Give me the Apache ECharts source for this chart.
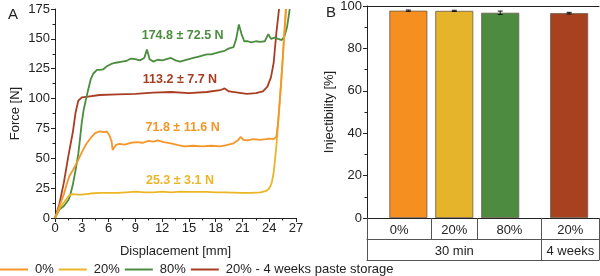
<!DOCTYPE html>
<html>
<head>
<meta charset="utf-8">
<script src="https://cdn.jsdelivr.net/npm/echarts@6/dist/echarts.min.js"></script>
<style>
  html, body { margin: 0; padding: 0; background: #fff; }
  #chart { width: 600px; height: 276px; }
</style>
</head>
<body>
<div id="chart"></div>
<script>
// panel A: force vs displacement curves [displacement mm, force N]
var curve0 = [[0,0],[0.3,6],[0.6,12],[1,20],[1.3,28],[1.6,35],[2,40],[2.5,47],[3,55],[3.5,62],[4,67],[4.5,71],[5,72.5],[5.5,72],[5.8,72.5],[6.1,69],[6.35,64],[6.45,57],[6.6,56],[6.8,61],[7.2,62],[7.8,61.5],[8.5,63],[9.2,63.5],[9.8,63],[10.5,64.5],[11,64],[11.5,65],[12.2,63.5],[13,62.5],[13.8,61],[14.5,60],[15.5,60.5],[16.5,60],[17.5,60.5],[18.5,60],[19.2,61],[20,62.5],[20.5,65],[20.8,68],[21.1,65.5],[21.6,65],[22.2,66],[23,65.5],[23.6,66],[24,66.5],[24.5,66],[24.8,68],[25,80],[25.3,110],[25.6,145],[25.9,175]];
var curve20 = [[0,0],[0.3,5],[0.6,9],[1,13],[1.3,16],[1.6,19],[1.9,20],[2.5,19.5],[3,19.5],[4,20.5],[5,21],[6,21],[7,21],[8,21.5],[9,22],[10,21.5],[11,21.5],[12,22],[13,21.5],[14,22],[15,21.8],[16,21.8],[17,21.8],[18,21.5],[19,21.5],[20,21.3],[21,21],[22,21],[23,21.5],[23.6,22.5],[23.9,24],[24.1,26],[24.3,30],[24.5,38],[24.8,60],[25.1,90],[25.5,130],[25.85,175]];
var curve80 = [[0,0],[0.5,7],[1,10],[1.5,15],[1.7,19],[2,28],[2.3,40],[2.6,53],[2.8,66],[3,80],[3.2,90],[3.4,97],[3.7,107],[4,116],[4.3,121],[4.7,124],[5,124],[5.4,124.5],[5.8,127],[6.3,129],[6.8,130],[7.5,131],[8,131.5],[8.5,133.5],[9,133],[9.5,132],[10,134],[10.3,141],[10.6,133],[11,131],[11.5,132.5],[12,132],[12.5,133],[13,134],[13.5,132],[14,131],[14.5,132],[15,133],[15.5,134],[16,135],[16.5,136],[17,137],[17.5,137],[18,138],[18.5,139],[19,140],[19.5,142],[20,143],[20.3,150],[20.6,162],[20.9,154],[21.2,148],[21.6,148],[22,147],[22.5,148],[23,147.5],[23.5,148],[23.9,154],[24.2,150],[24.6,151],[25,150],[25.4,149],[25.7,152],[26,160],[26.3,175]];
var curve20w = [[0,0],[0.5,12],[1,30],[1.5,52],[2,72],[2.3,88],[2.6,98],[3,101],[3.5,101.5],[5,103],[7,103.5],[9,104],[11,105],[13,105.5],[15,104.5],[17,105.5],[18.5,107],[19,108.5],[19.5,106],[20.5,105],[21.5,104],[22.5,104.5],[23.3,106],[23.8,110],[24.2,118],[24.5,130],[24.8,155],[25.1,175]];

var seriesNames = ["0%", "20%", "80%", "20% - 4 weeks paste storage"];
var curveNotes = ["71.8 \u00b1 11.6 N", "25.3 \u00b1 3.1 N", "174.8 \u00b1 72.5 N", "113.2 \u00b1 7.7 N"];
var notePos = [[14.3, 76], [14, 31], [14.3, 153], [14, 115.6]];

// panel B: injectibility
var barPos = [1, 2, 3, 4.5];
var barVals = [97.8, 97.7, 96.8, 96.6];
var barErr = [0.3, 0.3, 0.8, 0.4];
var row1Cuts = [0.1, 1.5, 2.5, 3.9, 5.15];
var row1Labels = ["0%", "20%", "80%", "20%"];
var row2Cuts = [0.1, 3.9, 5.15];
var row2Labels = ["30 min", "4 weeks"];

var colors = ["#f4962a", "#ebb626", "#4b8d3e", "#a83d21"];
var barColors = ["#f58f1f", "#e5b42a", "#4c8b40", "#a7411f"];
var font = "Liberation Sans";

var chart = echarts.init(document.getElementById("chart"));

function mids(cuts) {
    var out = [];
    for (var i = 0; i < cuts.length - 1; i++) out.push((cuts[i] + cuts[i + 1]) / 2);
    return out;
}
var row1Mid = mids(row1Cuts), row2Mid = mids(row2Cuts);
function labelFor(mid, labels) {
    return function(v) {
        for (var i = 0; i < mid.length; i++) if (Math.abs(mid[i] - v) < 1e-6) return labels[i];
        return "";
    };
}

var axisCol = "#222";
var curves = [curve0, curve20, curve80, curve20w];
var series = curves.map(function(c, i) {
    return {
        name: seriesNames[i],
        type: "line",
        xAxisIndex: 0, yAxisIndex: 0,
        data: c,
        symbol: "none",
        lineStyle: { width: 1.8, color: colors[i] },
        itemStyle: { color: colors[i] },
        z: 10 - i,
        markPoint: {
            symbol: "circle", symbolSize: 0,
            label: { show: true, position: "inside", formatter: curveNotes[i], color: colors[i], fontWeight: "bold", fontSize: 12.5, fontFamily: font },
            data: [{ coord: notePos[i] }]
        }
    };
});

series.push({
    type: "bar",
    xAxisIndex: 1, yAxisIndex: 1,
    barWidth: 38,
    data: barPos.map(function(p, i) {
        return { value: [p, barVals[i]], itemStyle: { color: barColors[i] } };
    }),
    itemStyle: { borderColor: "#6b5a4a", borderWidth: 0.8 }
});
series.push({
    type: "custom",
    xAxisIndex: 1, yAxisIndex: 1,
    data: barPos.map(function(p, i) { return [p, barVals[i] - barErr[i], barVals[i] + barErr[i]]; }),
    renderItem: function(params, api) {
        var lo = api.coord([api.value(0), api.value(1)]);
        var hi = api.coord([api.value(0), api.value(2)]);
        var w = 2.5, st = { stroke: "#111", lineWidth: 1 };
        return { type: "group", children: [
            { type: "line", shape: { x1: lo[0], y1: lo[1], x2: hi[0], y2: hi[1] }, style: st },
            { type: "line", shape: { x1: lo[0] - w, y1: lo[1], x2: lo[0] + w, y2: lo[1] }, style: st },
            { type: "line", shape: { x1: hi[0] - w, y1: hi[1], x2: hi[0] + w, y2: hi[1] }, style: st }
        ]};
    },
    z: 20
});

var baseText = { color: axisCol, fontSize: 13, fontFamily: font };

chart.setOption({
    animation: false,
    textStyle: { fontFamily: font },
    title: [
        { text: "A", left: 3, top: 2, textStyle: { fontSize: 15, fontWeight: "normal", color: axisCol, fontFamily: font } },
        { text: "B", left: 321, top: 0, textStyle: { fontSize: 15, fontWeight: "normal", color: axisCol, fontFamily: font } }
    ],
    legend: {
        data: seriesNames,
        left: 0, bottom: 0, padding: 0,
        icon: "rect",
        itemWidth: 28, itemHeight: 2, itemGap: 5,
        textStyle: { color: axisCol, fontSize: 13, fontFamily: font, padding: [0, 0, 0, 2] }
    },
    grid: [
        { left: 55, right: 304, top: 9, bottom: 58, outerBoundsMode: "none" },
        { left: 367, right: 1, top: 6, bottom: 58, outerBoundsMode: "none" }
    ],
    xAxis: [
        {
            gridIndex: 0, type: "value", min: 0, max: 27, interval: 3, position: "bottom",
            name: "Displacement [mm]", nameLocation: "middle", nameGap: 27,
            nameTextStyle: baseText,
            axisLine: { lineStyle: { color: axisCol } },
            axisTick: { length: 4, lineStyle: { color: axisCol } },
            minorTick: { show: true, splitNumber: 2, length: 2.5, lineStyle: { color: axisCol } },
            axisLabel: Object.assign({ margin: 4 }, baseText),
            splitLine: { show: false }
        },
        {
            gridIndex: 1, type: "value", min: 0.1, max: 5.15, position: "bottom",
            axisLine: { lineStyle: { color: axisCol } },
            axisTick: { show: false }, axisLabel: { show: false }, splitLine: { show: false }
        },
        {
            gridIndex: 1, type: "value", min: 0.1, max: 5.15, position: "bottom",
            axisLine: { show: false },
            axisTick: { show: true, length: 21, customValues: row1Cuts, lineStyle: { color: "#555" } },
            axisLabel: Object.assign({ customValues: row1Mid, formatter: labelFor(row1Mid, row1Labels), margin: 6 }, baseText),
            splitLine: { show: false }
        },
        {
            gridIndex: 1, type: "value", min: 0.1, max: 5.15, offset: 21, position: "bottom",
            axisLine: { show: true, lineStyle: { color: "#555" } },
            axisTick: { show: true, length: 21, customValues: row2Cuts, lineStyle: { color: "#555" } },
            axisLabel: Object.assign({ customValues: row2Mid, formatter: labelFor(row2Mid, row2Labels), margin: 6 }, baseText),
            splitLine: { show: false }
        },
        {
            gridIndex: 1, type: "value", min: 0.1, max: 5.15, offset: 42, position: "bottom",
            axisLine: { show: true, lineStyle: { color: "#555" } },
            axisTick: { show: false }, axisLabel: { show: false }, splitLine: { show: false }
        },
        {
            gridIndex: 1, type: "value", min: 0.1, max: 5.15, position: "top",
            axisLine: { show: true, lineStyle: { color: axisCol } },
            axisTick: { show: false }, axisLabel: { show: false }, splitLine: { show: false }
        }
    ],
    yAxis: [
        {
            gridIndex: 0, type: "value", min: 0, max: 175, interval: 25, position: "left",
            name: "Force [N]", nameLocation: "middle", nameGap: 33,
            nameTextStyle: baseText,
            axisLine: { show: true, lineStyle: { color: axisCol } },
            axisTick: { show: true, length: 4, lineStyle: { color: axisCol } },
            minorTick: { show: true, splitNumber: 2, length: 2.5, lineStyle: { color: axisCol } },
            axisLabel: Object.assign({ margin: 5 }, baseText),
            splitLine: { show: false }
        },
        {
            gridIndex: 1, type: "value", min: 0, max: 100, interval: 20, position: "left",
            name: "Injectibility [%]", nameLocation: "middle", nameGap: 27,
            nameTextStyle: baseText,
            axisLine: { show: true, lineStyle: { color: axisCol } },
            axisTick: { show: true, length: 4, lineStyle: { color: axisCol } },
            minorTick: { show: true, splitNumber: 2, length: 2.5, lineStyle: { color: axisCol } },
            axisLabel: Object.assign({ margin: 5 }, baseText),
            splitLine: { show: false }
        }
    ],
    series: series
});
</script>
</body>
</html>
